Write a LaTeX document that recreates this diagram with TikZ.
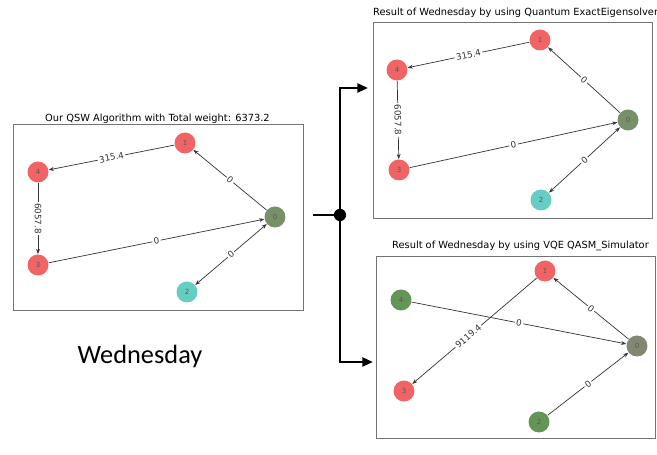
\documentclass[tikz,border=0pt]{standalone}
\usepackage{fontspec}
\setmainfont{DejaVu Sans}
\newfontfamily\dayfont{Carlito}
\usetikzlibrary{arrows.meta,positioning}

\definecolor{nred}{RGB}{238,72,74}
\definecolor{ngreen}{RGB}{72,132,56}
\definecolor{ncyan}{RGB}{74,196,184}
\definecolor{nhub}{RGB}{96,124,78}
\definecolor{nolive}{RGB}{108,114,88}

\begin{document}
\begin{tikzpicture}[
  x=0.02cm, y=-0.02cm,
  vtx/.style={circle, fill=#1, fill opacity=0.85, text opacity=1, minimum size=0.42cm, inner sep=0pt, font=\fontsize{4}{4}\selectfont, text=black!65},
  edge/.style={-{Stealth[length=3pt,width=2.2pt]}, line width=0.4pt, black!80},
  bedge/.style={{Stealth[length=3pt,width=2.2pt]}-{Stealth[length=3pt,width=2.2pt]}, line width=0.4pt, black!80},
  wlbl/.style={midway, sloped, fill=white, inner sep=0.8pt, font=\fontsize{5}{5}\selectfont},
  panel/.style={draw=black!55, line width=0.5pt},
  ttl/.style={font=\fontsize{5.6}{6}\selectfont, anchor=base west},
  flow/.style={line width=1.4pt, -{Triangle[length=6pt,width=5pt]}},
]
\useasboundingbox (0,0) rectangle (657,455);

% --- QSW panel ---
\draw[panel] (13,124) rectangle (303,310);
\node[ttl] (t1) at (39,122) {Our QSW Algorithm with Total weight: 6373.2};

\node[vtx=nred] (a1) at (185,143) {1};
\node[vtx=nred] (a4) at (38,172) {4};
\node[vtx=nred] (a3) at (38,265) {3};
\node[vtx=nhub] (a0) at (275,217) {0};
\node[vtx=ncyan] (a2) at (187,292) {2};

\draw[edge] (a1) -- node[wlbl] {315.4} (a4);
\draw[edge] (a4) -- node[wlbl] {6057.8} (a3);
\draw[edge] (a3) -- node[wlbl] {0} (a0);
\draw[edge] (a0) -- node[wlbl] {0} (a1);
\draw[bedge] (a0) -- node[wlbl] {0} (a2);

\node[font=\dayfont\fontsize{15}{18}\selectfont] (day) at (140,356) {Wednesday};

% --- ExactEigensolver panel ---
\draw[panel] (373,22) rectangle (652,218);
\node[ttl] (t2) at (367,16) {Result of Wednesday by using Quantum ExactEigensolver};

\node[vtx=nred] (b1) at (540,40) {1};
\node[vtx=nred] (b4) at (397,70) {4};
\node[vtx=nred] (b3) at (399,170) {3};
\node[vtx=nhub] (b0) at (628,120) {0};
\node[vtx=ncyan] (b2) at (541,200) {2};

\draw[edge] (b1) -- node[wlbl] {315.4} (b4);
\draw[edge] (b4) -- node[wlbl] {6057.8} (b3);
\draw[edge] (b3) -- node[wlbl] {0} (b0);
\draw[edge] (b0) -- node[wlbl] {0} (b1);
\draw[bedge] (b0) -- node[wlbl] {0} (b2);

% --- VQE panel ---
\draw[panel] (376,256) rectangle (655,438);
\node[ttl] (t3) at (386,249) {Result of Wednesday by using VQE QASM\_Simulator};

\node[vtx=nred] (c1) at (545,271) {1};
\node[vtx=ngreen] (c4) at (401,300) {4};
\node[vtx=nred] (c3) at (404,391) {3};
\node[vtx=nolive] (c0) at (637,346) {0};
\node[vtx=ngreen] (c2) at (539,422) {2};

\draw[edge] (c1) -- node[wlbl, pos=0.55] {9119.4} (c3);
\draw[edge] (c4) -- node[wlbl] {0} (c0);
\draw[edge] (c0) -- node[wlbl] {0} (c1);
\draw[edge] (c2) -- node[wlbl] {0} (c0);

% --- split arrows ---
\coordinate (src) at (313,215);
\coordinate (up) at (368,88);
\coordinate (dn) at (373,362);
\node[circle, fill, minimum size=7pt, inner sep=0pt] (jn) at (340,215) {};
\draw[line width=1.4pt] (src) -- (jn);
\draw[flow] (jn.center) |- (up);
\draw[flow] (jn.center) |- (dn);

\end{tikzpicture}
\end{document}
